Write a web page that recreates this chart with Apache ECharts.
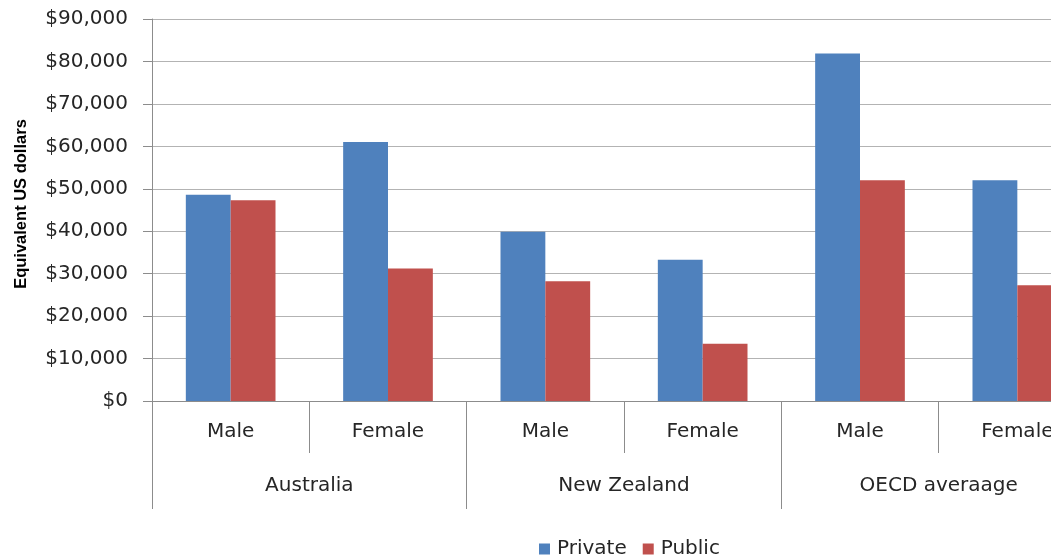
<!DOCTYPE html>
<html><head><meta charset="utf-8">
<script src="https://cdn.jsdelivr.net/npm/echarts@6/dist/echarts.min.js"></script>
<style>html,body{margin:0;padding:0;overflow:hidden;background:#fff;width:1051px;height:559px}#c{width:1100px;height:559px}</style>
</head><body><div id="c"></div>
<script>
const categories = ['Male','Female','Male','Female','Male','Female'];
const groups = ['Australia','New Zealand','OECD averaage'];
const privateVals = [48600, 61000, 39900, 33300, 81900, 52000];
const publicVals = [47300, 31200, 28200, 13500, 52000, 27300];
const yTicks = {min:0, max:90000, interval:10000};

const chart = echarts.init(document.getElementById('c'), null, {renderer:'canvas'});
const txt = '#262626';
const font = 'DejaVu Sans';
chart.setOption({
  animation:false,
  backgroundColor:'#fff',
  grid:{left:152, top:19, right:4, bottom:158, containLabel:false},
  legend:{left:539, top:539, padding:0, itemWidth:11, itemHeight:11, itemGap:16,
    icon:'rect', textStyle:{fontFamily:font, fontSize:20, color:txt, padding:[0,0,0,2]},
    data:['Private','Public']},
  xAxis:[
    {type:'category', data:categories, position:'bottom',
     axisLine:{show:true, lineStyle:{color:'#8c8c8c', width:1}},
     axisTick:{show:true, length:52, lineStyle:{color:'#8c8c8c'}},
     axisLabel:{margin:21, fontFamily:font, fontSize:20, color:txt, interval:0},
     splitLine:{show:false}},
    {type:'category', data:groups, position:'bottom',
     axisLine:{show:false},
     axisTick:{show:true, length:108, lineStyle:{color:'#8c8c8c'}},
     axisLabel:{margin:75, fontFamily:font, fontSize:20, color:txt, interval:0},
     splitLine:{show:false}}
  ],
  yAxis:{type:'value', min:yTicks.min, max:yTicks.max, interval:yTicks.interval,
    name:'Equivalent US dollars', nameLocation:'middle', nameGap:122, nameRotate:90,
    nameTextStyle:{fontFamily:'Liberation Sans', fontWeight:'bold', fontSize:16.5, color:'#000', padding:[0,0,0,12]},
    axisLine:{show:true, lineStyle:{color:'#8c8c8c'}},
    axisTick:{show:true, length:9, lineStyle:{color:'#8c8c8c'}},
    axisLabel:{margin:24, fontFamily:font, fontSize:20, color:txt,
      formatter:v=>'$'+v.toLocaleString('en-US')},
    splitLine:{show:true, lineStyle:{color:'#b3b3b3', width:1}}},
  series:[
    {name:'Private', type:'bar', data:privateVals, xAxisIndex:0, barGap:'0%', barCategoryGap:'43%',
     itemStyle:{color:'#4F81BD'}},
    {name:'Public', type:'bar', data:publicVals, xAxisIndex:0, barGap:'0%', barCategoryGap:'43%',
     itemStyle:{color:'#C0504D'}}
  ]
});
</script></body></html>
